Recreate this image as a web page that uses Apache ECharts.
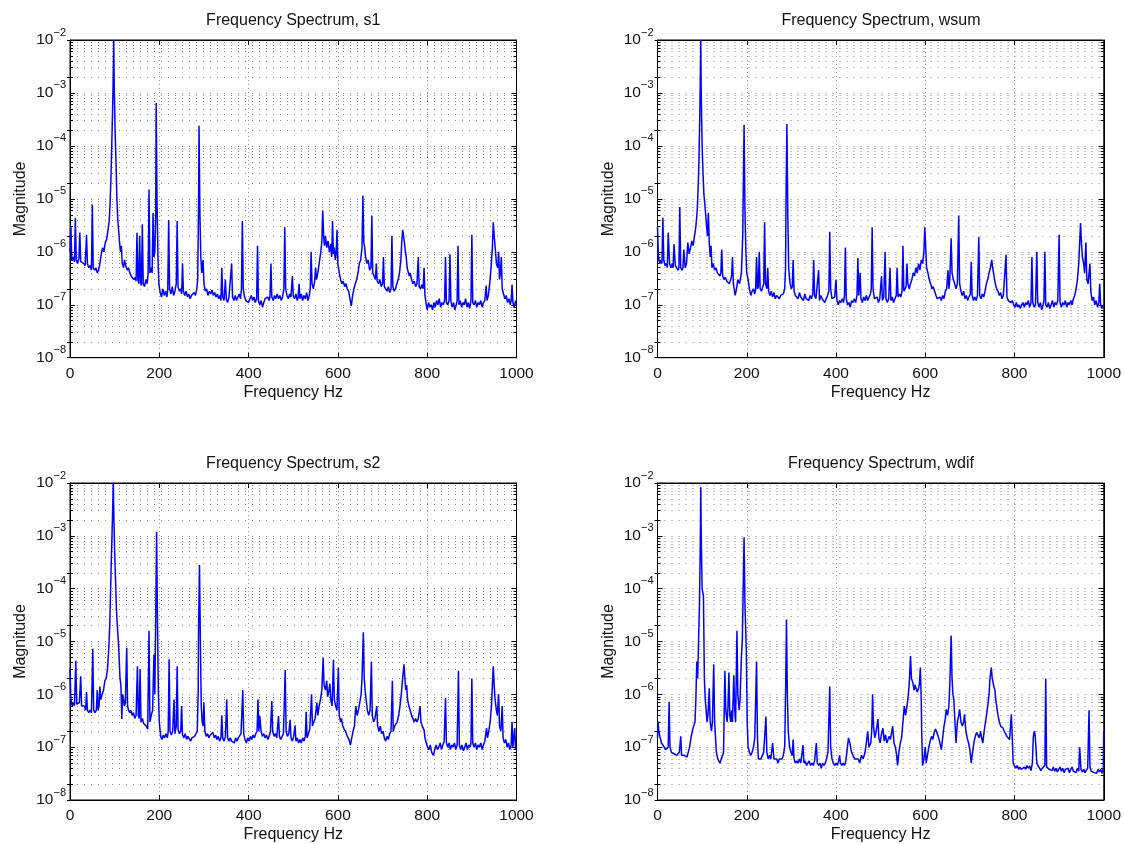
<!DOCTYPE html>
<html>
<head>
<meta charset="utf-8">
<script src="https://cdn.jsdelivr.net/npm/echarts@6/dist/echarts.min.js"></script>
<style>html,body{margin:0;padding:0;background:#fff}#c{width:1124px;height:844px}</style>
</head>
<body>
<div id="c"></div>
<script>
// ---------- DATA (frequency Hz, magnitude) ----------
const titles = ['Frequency Spectrum, s1', 'Frequency Spectrum, wsum', 'Frequency Spectrum, s2', 'Frequency Spectrum, wdif'];
const xTicks = [0, 200, 400, 600, 800, 1000];
const yRange = [1e-8, 1e-2];
const minorSteps = [2, 3, 4, 5, 6, 7, 8, 9];

const s1 = [[0,1e-6],[2,3e-6],[4,7e-7],[7,8e-7],[10,6.5e-7],[12,4.4e-6],[14,7e-7],[17,6e-7],[20,7.5e-7],[22,2.3e-6],[24,6.5e-7],[28,7e-7],[31,6e-7],[34,5.5e-7],[37,2.1e-6],[39,6e-7],[42,5e-7],[45,5.5e-7],[48,4.5e-7],[50,7.8e-6],[52,5e-7],[55,4.5e-7],[58,5e-7],[61,4e-7],[64,4.5e-7],[67,6e-7],[70,9e-7],[73,1.2e-6],[76,1e-6],[79,1.5e-6],[82,1.7e-6],[85,2.5e-6],[88,4e-6],[90,9e-6],[92,3e-5],[94,1.5e-4],[96,8e-4],[98,1e-2],[99,1.5e-3],[101,2e-4],[103,5e-5],[105,1e-5],[107,4e-6],[109,2.5e-6],[111,1.5e-6],[113,1e-6],[115,1.3e-6],[117,6e-7],[120,5e-7],[122,7e-7],[125,5.5e-7],[128,4.5e-7],[131,5e-7],[134,4e-7],[137,3.5e-7],[140,3.8e-7],[143,3e-7],[146,3.3e-7],[148,2.8e-7],[150,2.3e-6],[152,3e-7],[154,2.5e-7],[156,2e-6],[158,2.6e-7],[160,2.3e-7],[162,3.3e-6],[164,2.5e-7],[167,2.2e-7],[170,3e-7],[173,2.5e-7],[175,4e-7],[177,1.5e-5],[179,4e-7],[182,5e-7],[184,4e-7],[186,5.4e-6],[188,8e-7],[190,1e-6],[192,5e-6],[193,6.5e-4],[195,8e-6],[197,8e-7],[199,2.5e-7],[202,1.7e-7],[205,1.4e-7],[208,2e-7],[211,1.5e-7],[214,1.8e-7],[217,1.4e-7],[219,2e-7],[221,4e-6],[223,2e-7],[226,1.6e-7],[229,2.2e-7],[232,1.5e-7],[235,1.8e-7],[238,2.5e-7],[240,3.8e-6],[242,2.2e-7],[245,1.8e-7],[248,2e-7],[250,1.6e-7],[252,6e-7],[254,1.8e-7],[257,1.5e-7],[260,1.8e-7],[263,1.4e-7],[266,1.6e-7],[269,1.3e-7],[272,1.5e-7],[275,1.4e-7],[278,1.7e-7],[281,1.5e-7],[284,2e-7],[286,3e-7],[288,8e-6],[289,2.4e-4],[291,5e-6],[293,8e-7],[295,4e-7],[298,7e-7],[300,2.5e-7],[303,1.8e-7],[306,2e-7],[309,1.5e-7],[312,1.8e-7],[315,1.6e-7],[318,1.9e-7],[321,1.5e-7],[324,1.7e-7],[327,1.4e-7],[330,1.6e-7],[333,1.3e-7],[336,1.5e-7],[338,1.2e-7],[340,5e-7],[342,1.4e-7],[345,1.2e-7],[348,3e-7],[350,1.3e-7],[353,1.1e-7],[356,1.4e-7],[359,1.3e-7],[362,6e-7],[364,1.4e-7],[367,1.2e-7],[370,1.5e-7],[373,1.2e-7],[376,1.4e-7],[379,1.6e-7],[382,1.3e-7],[384,2e-7],[386,3.8e-6],[388,2e-7],[391,1.4e-7],[394,1.2e-7],[397,1.3e-7],[400,1.1e-7],[403,1.3e-7],[406,1.5e-7],[409,1.2e-7],[412,1.4e-7],[415,1.1e-7],[418,1.3e-7],[420,1.3e-6],[422,1.2e-7],[425,1e-7],[428,1.2e-7],[431,9e-8],[434,1.1e-7],[437,1.3e-7],[440,1.2e-7],[443,1.4e-7],[446,1.2e-7],[448,1.5e-7],[450,6e-7],[452,1.4e-7],[455,1.2e-7],[458,1.5e-7],[461,1.3e-7],[464,1.6e-7],[467,1.3e-7],[470,1.5e-7],[473,1.2e-7],[476,1.4e-7],[479,2e-7],[481,2.9e-6],[483,2e-7],[486,1.5e-7],[489,1.3e-7],[492,1.6e-7],[495,1.4e-7],[498,3.5e-7],[500,1.5e-7],[503,1.3e-7],[506,1.6e-7],[509,1.2e-7],[511,1.4e-7],[513,2.5e-7],[515,1.3e-7],[518,1.6e-7],[521,1.2e-7],[524,1.5e-7],[527,1.3e-7],[530,1.7e-7],[533,1.2e-7],[536,1.5e-7],[538,2e-7],[540,1e-6],[542,2.5e-7],[545,2e-7],[548,2.8e-7],[550,5e-7],[552,3e-7],[555,4e-7],[558,6e-7],[561,9e-7],[564,1.5e-6],[566,6e-6],[568,2e-6],[570,1.3e-6],[572,2e-6],[575,1.2e-6],[578,1.6e-6],[581,1e-6],[584,1.4e-6],[586,8e-7],[588,3.8e-6],[590,9e-7],[592,1.2e-6],[594,7e-7],[596,9e-7],[598,2.6e-6],[600,6e-7],[603,4e-7],[606,3e-7],[609,2.5e-7],[612,2.8e-7],[615,2.2e-7],[618,2.5e-7],[621,2e-7],[624,1.8e-7],[627,1.3e-7],[630,9.5e-8],[633,1.5e-7],[636,2e-7],[639,2.5e-7],[642,3e-7],[645,4e-7],[648,6e-7],[651,7e-7],[654,1.2e-6],[656,1.15e-5],[658,1.5e-6],[660,1.2e-6],[662,8e-7],[665,6e-7],[668,7e-7],[671,4.5e-7],[674,5e-7],[676,4.8e-6],[678,4e-7],[681,3.5e-7],[684,3e-7],[686,6e-7],[688,2.8e-7],[691,2.5e-7],[694,3e-7],[697,2.2e-7],[700,2.5e-7],[702,8e-7],[704,2.2e-7],[707,2e-7],[710,1.8e-7],[713,2.2e-7],[716,1.7e-7],[719,2e-7],[721,2e-6],[723,2.2e-7],[726,1.8e-7],[729,2e-7],[732,2.5e-7],[735,3e-7],[738,4e-7],[741,7e-7],[743,1.5e-6],[745,2.6e-6],[747,2e-6],[749,1.5e-6],[751,1e-6],[753,8e-7],[755,5e-7],[758,4e-7],[760,3.5e-7],[762,4e-7],[765,3e-7],[768,2.5e-7],[771,2.8e-7],[774,2.2e-7],[777,2.5e-7],[780,8e-7],[782,2.2e-7],[785,2e-7],[788,2.4e-7],[791,2e-7],[793,5e-7],[795,1.5e-7],[798,1e-7],[800,8e-8],[803,1.1e-7],[806,9e-8],[809,1e-7],[812,8e-8],[815,1.1e-7],[818,9e-8],[821,1.2e-7],[824,1e-7],[827,1.3e-7],[830,9e-8],[833,1.1e-7],[836,1e-7],[839,1.2e-7],[841,8e-7],[843,1.1e-7],[846,1e-7],[849,1.2e-7],[851,9e-7],[853,1.2e-7],[856,9e-8],[859,1.1e-7],[862,8e-8],[865,1e-7],[867,1.2e-7],[869,1.3e-6],[871,1e-7],[874,1.2e-7],[877,9e-8],[880,1.1e-7],[883,1e-7],[886,1.3e-7],[889,9e-8],[892,1.1e-7],[895,8.5e-8],[898,1.2e-7],[900,2.1e-6],[902,1.1e-7],[905,1e-7],[908,1.2e-7],[911,9e-8],[914,1.1e-7],[917,1e-7],[920,1.2e-7],[923,9e-8],[926,1.1e-7],[929,1.2e-7],[932,2.3e-7],[934,1.2e-7],[937,1.5e-7],[940,2.5e-7],[943,5e-7],[946,1.2e-6],[948,3.6e-6],[950,2e-6],[952,1.3e-6],[955,6e-7],[958,5e-7],[960,1e-6],[962,3e-7],[964,4e-7],[966,8e-7],[968,2e-7],[971,1.6e-7],[974,1.3e-7],[977,1.5e-7],[980,1.1e-7],[983,1.3e-7],[986,1e-7],[988,1.2e-7],[990,2.4e-7],[992,1.1e-7],[995,9e-8],[998,1.2e-7],[1000,1e-7]];

const wsum = [[0,3e-6],[2,8e-7],[5,6e-7],[8,7e-7],[10,6e-7],[12,4.4e-6],[14,7e-7],[17,5.5e-7],[20,6e-7],[22,5e-7],[24,2.3e-6],[27,6e-7],[30,5e-7],[33,6e-7],[35,5e-7],[37,1.4e-6],[40,5.5e-7],[43,5e-7],[46,4.5e-7],[48,5e-7],[50,7e-6],[52,5e-7],[55,4.5e-7],[57,5e-7],[59,1.1e-6],[62,5e-7],[65,6e-7],[68,1.5e-6],[71,9e-7],[74,1.2e-6],[77,1.6e-6],[80,1.3e-6],[83,2e-6],[86,3e-6],[89,6e-6],[91,1.5e-5],[93,6e-5],[95,5e-4],[97,1e-2],[98,1e-3],[100,1e-4],[102,3e-5],[104,1.2e-5],[106,8e-6],[108,5e-6],[110,3e-6],[112,2e-6],[114,5.4e-6],[116,1.5e-6],[118,8e-7],[120,1.3e-6],[122,5e-7],[125,6e-7],[128,4.5e-7],[131,5e-7],[134,4e-7],[137,3.8e-7],[140,3.5e-7],[142,4e-7],[144,1.1e-6],[146,3.5e-7],[149,3e-7],[152,3.3e-7],[155,2.8e-7],[158,3e-7],[161,2.5e-7],[164,3e-7],[166,3.5e-7],[168,8e-7],[170,2.5e-7],[174,1.5e-7],[177,2e-7],[180,3e-7],[184,2.5e-7],[188,4e-7],[191,2e-6],[192,1e-5],[194,2.5e-4],[196,6e-6],[198,1e-6],[200,4e-7],[203,3e-7],[206,2e-7],[209,1.5e-7],[212,1.8e-7],[215,2e-7],[218,1.6e-7],[220,2e-7],[222,8e-7],[224,2e-7],[226,2.2e-7],[228,1e-6],[230,2e-7],[233,1.8e-7],[236,2.2e-7],[238,2.5e-7],[240,3.6e-6],[242,2.5e-7],[245,2e-7],[247,5e-7],[249,1.8e-7],[252,1.5e-7],[255,1.8e-7],[258,1.4e-7],[261,1.7e-7],[264,1.3e-7],[267,1.5e-7],[270,1.6e-7],[273,1.3e-7],[276,1.5e-7],[279,1.4e-7],[282,1.6e-7],[285,2e-7],[287,5e-7],[288,1e-5],[290,2.6e-4],[292,5e-6],[294,5e-7],[297,2.5e-7],[300,2e-7],[302,2.2e-7],[304,7e-7],[306,1.8e-7],[309,1.5e-7],[312,1.6e-7],[315,1.3e-7],[318,1.7e-7],[321,1.4e-7],[324,1.5e-7],[327,1.2e-7],[330,1.6e-7],[333,1.3e-7],[336,1.4e-7],[339,1.2e-7],[342,1.5e-7],[345,1.3e-7],[348,1.6e-7],[350,7e-7],[352,1.5e-7],[355,1.3e-7],[358,1.4e-7],[361,4.5e-7],[363,1.2e-7],[366,1.5e-7],[369,1.3e-7],[372,1.4e-7],[375,1.1e-7],[378,1.3e-7],[381,1.5e-7],[384,1.8e-7],[386,2.4e-6],[388,2e-7],[391,1.3e-7],[394,1.2e-7],[397,1.4e-7],[400,3e-7],[402,1.2e-7],[405,1e-7],[408,1.2e-7],[411,1.1e-7],[414,1.3e-7],[417,1.1e-7],[419,1.5e-7],[421,1.2e-6],[423,1.3e-7],[426,1e-7],[429,1.1e-7],[432,9e-8],[435,1.2e-7],[438,1.1e-7],[441,1.3e-7],[444,1.1e-7],[447,1.5e-7],[449,7.6e-7],[451,1.5e-7],[454,4e-7],[456,1.3e-7],[459,1.1e-7],[462,1.4e-7],[465,1.2e-7],[468,1.5e-7],[471,1.2e-7],[474,1.3e-7],[477,1.6e-7],[479,2e-7],[481,2.9e-6],[483,2e-7],[486,1.3e-7],[489,1.2e-7],[492,1.4e-7],[495,1.1e-7],[498,1.3e-7],[500,1.2e-7],[502,3.5e-7],[504,1.2e-7],[507,1.4e-7],[510,1e-6],[512,1.3e-7],[515,1.1e-7],[518,1.3e-7],[521,5e-7],[523,1.2e-7],[526,1.4e-7],[529,1.1e-7],[532,1.3e-7],[535,1.5e-7],[537,5e-7],[539,1.4e-7],[542,1.6e-7],[545,1.4e-7],[548,1.8e-7],[550,1.3e-6],[552,1.8e-7],[555,2e-7],[557,2.2e-7],[559,6e-7],[561,2.5e-7],[564,2e-7],[567,2.5e-7],[570,3e-7],[573,4e-7],[576,3.5e-7],[579,5e-7],[582,4e-7],[585,6e-7],[588,4.5e-7],[591,7e-7],[594,6e-7],[597,1e-6],[599,2.9e-6],[601,1.2e-6],[603,5e-7],[606,4e-7],[609,3e-7],[612,2.5e-7],[615,2e-7],[618,2.2e-7],[621,1.8e-7],[624,1.5e-7],[627,1.3e-7],[630,1.2e-7],[633,1.4e-7],[636,1.2e-7],[639,1.5e-7],[642,1.3e-7],[645,1.8e-7],[648,2e-7],[651,4.5e-7],[653,2e-7],[655,3e-7],[658,1.8e-6],[660,4e-7],[663,3e-7],[666,2.5e-7],[669,2e-7],[672,2.5e-7],[675,4.8e-6],[677,2.5e-7],[680,1.8e-7],[683,1.5e-7],[686,1.8e-7],[689,1.3e-7],[692,1.5e-7],[695,1.2e-7],[698,1.4e-7],[701,1.6e-7],[703,6.5e-7],[705,1.5e-7],[708,1.2e-7],[711,1.4e-7],[714,1.2e-7],[717,1.5e-7],[720,1.9e-6],[722,1.5e-7],[725,1.3e-7],[728,1.6e-7],[731,1.4e-7],[734,1.8e-7],[737,2.5e-7],[740,3e-7],[743,4e-7],[746,5e-7],[749,7e-7],[751,5e-7],[754,3.5e-7],[757,2.5e-7],[760,2e-7],[763,1.8e-7],[766,1.5e-7],[769,1.7e-7],[772,1.3e-7],[775,1.5e-7],[778,1.4e-7],[781,8.8e-7],[783,1.4e-7],[786,1.2e-7],[789,1.3e-7],[792,1.1e-7],[795,1.2e-7],[798,1e-7],[801,9e-8],[804,1.1e-7],[807,9e-8],[810,1e-7],[813,8.5e-8],[816,1e-7],[819,1.1e-7],[822,9e-8],[825,1.1e-7],[828,1e-7],[831,1.2e-7],[834,9e-8],[837,1.1e-7],[839,8e-7],[841,1.1e-7],[844,9e-8],[847,1e-7],[850,1e-6],[852,1.1e-7],[855,9e-8],[858,1.1e-7],[861,8e-8],[864,1e-7],[866,1.2e-7],[868,1e-6],[870,1e-7],[873,9e-8],[876,1.1e-7],[879,8.5e-8],[882,1e-7],[885,1.2e-7],[888,9e-8],[891,1.1e-7],[894,1e-7],[897,1.2e-7],[900,2.1e-6],[902,1.1e-7],[905,9e-8],[908,1.1e-7],[911,1e-7],[914,1.2e-7],[917,9e-8],[920,1.1e-7],[923,1e-7],[926,1.2e-7],[929,1e-7],[932,1.3e-7],[935,1.5e-7],[938,2e-7],[941,3e-7],[944,6e-7],[946,1.5e-6],[948,3.5e-6],[950,1.5e-6],[952,8e-7],[955,6e-7],[957,4e-7],[960,1.5e-6],[962,3e-7],[965,2.5e-7],[969,6e-7],[971,1.8e-7],[974,1.2e-7],[977,1.4e-7],[980,1e-7],[983,1.2e-7],[986,9e-8],[989,1.1e-7],[991,2.5e-7],[993,1e-7],[996,8.5e-8],[1000,1e-7]];

const s2 = [[0,3e-6],[2,8e-7],[5,6e-7],[8,7e-7],[10,6e-7],[13,4.3e-6],[15,6.5e-7],[18,6e-7],[21,7e-7],[24,2.2e-6],[26,6e-7],[29,5.5e-7],[32,6e-7],[35,5e-7],[37,1.1e-6],[39,5e-7],[42,4.5e-7],[45,5e-7],[48,4.5e-7],[51,7.3e-6],[53,5e-7],[56,4.5e-7],[59,5e-7],[61,1.2e-6],[63,5e-7],[65,6e-7],[67,1.4e-6],[69,8e-7],[72,1e-6],[75,1.2e-6],[78,1.8e-6],[81,2e-6],[84,3e-6],[87,8e-6],[89,2e-5],[91,1e-4],[93,5e-4],[95,2e-3],[97,1e-2],[98,3e-3],[100,5e-4],[102,1.5e-4],[104,4e-5],[106,2e-5],[108,1.1e-5],[110,5e-6],[112,2e-6],[114,1.5e-6],[116,3.4e-7],[118,1e-6],[120,8e-7],[122,6e-7],[124,7e-7],[127,7.6e-6],[129,6e-7],[131,5e-7],[134,4.5e-7],[136,5e-7],[139,4e-7],[142,4.5e-7],[145,3.5e-7],[148,4e-7],[151,3.4e-6],[153,4e-7],[155,3.5e-7],[157,3e-6],[159,3e-7],[162,3.5e-7],[165,2.8e-7],[168,3e-7],[171,2.5e-7],[174,2.2e-7],[177,1.6e-5],[179,3e-7],[182,4e-7],[185,5e-7],[188,5.7e-6],[190,1e-6],[192,3e-5],[194,1.2e-3],[196,2e-5],[198,1e-6],[200,3e-7],[203,1.6e-7],[206,1.4e-7],[209,1.7e-7],[212,1.5e-7],[215,1.8e-7],[218,1.5e-7],[220,2e-7],[222,4.6e-6],[224,2e-7],[227,1.7e-7],[230,2e-7],[233,8e-7],[235,1.8e-7],[238,2.5e-7],[240,3.4e-6],[242,2.2e-7],[245,1.8e-7],[248,2e-7],[250,6e-7],[252,1.7e-7],[255,1.5e-7],[258,1.8e-7],[261,1.4e-7],[264,1.6e-7],[267,1.5e-7],[270,1.3e-7],[273,1.5e-7],[276,1.4e-7],[279,1.6e-7],[282,1.5e-7],[285,2e-7],[287,1e-6],[288,2e-5],[290,2.8e-4],[292,1e-5],[294,6e-7],[296,3e-7],[298,2.5e-7],[300,7e-7],[302,2e-7],[305,1.6e-7],[308,1.8e-7],[311,1.5e-7],[314,1.7e-7],[317,1.6e-7],[320,1.9e-7],[323,1.5e-7],[326,1.7e-7],[329,1.4e-7],[332,1.6e-7],[335,1.3e-7],[338,1.5e-7],[340,4e-7],[342,1.5e-7],[345,1.3e-7],[348,1.6e-7],[351,8e-7],[353,1.5e-7],[356,1.3e-7],[359,1.5e-7],[362,1.3e-7],[365,1.4e-7],[368,1.2e-7],[371,1.5e-7],[374,1.3e-7],[377,1.5e-7],[380,1.4e-7],[383,1.8e-7],[387,1.2e-6],[389,1.8e-7],[392,1.4e-7],[395,1.2e-7],[398,1.5e-7],[401,1.3e-7],[404,1.6e-7],[407,1.4e-7],[410,1.7e-7],[413,1.5e-7],[416,1.8e-7],[419,2e-7],[421,8e-7],[423,2e-7],[425,3.9e-7],[428,2e-7],[431,1.6e-7],[434,1.8e-7],[437,1.5e-7],[440,1.7e-7],[443,1.4e-7],[446,1.6e-7],[449,2e-7],[452,7.5e-7],[454,2e-7],[457,1.6e-7],[460,1.8e-7],[463,1.5e-7],[467,3.9e-7],[469,1.6e-7],[472,1.4e-7],[475,1.6e-7],[478,1.8e-7],[482,2.9e-6],[484,2e-7],[487,1.6e-7],[490,1.8e-7],[493,3.3e-7],[495,1.5e-7],[498,1.3e-7],[501,1.6e-7],[504,2.6e-7],[506,1.3e-7],[509,1.5e-7],[512,1.2e-7],[515,1.4e-7],[518,1.2e-7],[521,1.5e-7],[524,1.3e-7],[527,1.6e-7],[529,4.7e-7],[531,1.5e-7],[534,1.8e-7],[537,2.2e-7],[541,1e-6],[543,2.5e-7],[546,3e-7],[549,3.5e-7],[553,7e-7],[555,4e-7],[558,6e-7],[561,8e-7],[564,1.2e-6],[567,4.9e-6],[569,1.5e-6],[572,1.2e-6],[575,1.8e-6],[577,9e-7],[580,1.2e-6],[582,1.6e-6],[584,8e-7],[587,6e-7],[590,4.5e-6],[592,8e-7],[595,6e-7],[598,5e-7],[601,3.2e-6],[603,4e-7],[606,3e-7],[608,3.5e-7],[611,2.5e-7],[614,2.2e-7],[617,2e-7],[620,1.7e-7],[623,1.5e-7],[626,1.3e-7],[628,1.1e-7],[631,1.5e-7],[634,2e-7],[637,2.5e-7],[640,6e-7],[643,4e-7],[646,5e-7],[649,7e-7],[652,1e-6],[654,2e-6],[657,1.5e-5],[659,2e-6],[661,1.2e-6],[664,7e-7],[666,5e-7],[669,4e-7],[672,5e-7],[675,4.2e-6],[677,4e-7],[680,3e-7],[683,3.5e-7],[687,6e-7],[689,2.5e-7],[692,2e-7],[695,2.5e-7],[698,1.8e-7],[701,2e-7],[704,1.5e-7],[707,1.3e-7],[710,1.6e-7],[713,1.4e-7],[716,1.8e-7],[719,2e-7],[722,1.8e-6],[724,2e-7],[727,2.5e-7],[731,2.6e-7],[733,3e-7],[736,4e-7],[739,6e-7],[742,1e-6],[745,2e-6],[748,3.7e-6],[750,2e-6],[752,1.2e-6],[754,1.5e-6],[756,8e-7],[759,6e-7],[762,5e-7],[765,4e-7],[769,3.9e-7],[771,3e-7],[774,3.5e-7],[777,3e-7],[780,3.5e-7],[784,6e-7],[786,3e-7],[789,2.5e-7],[793,2.1e-7],[795,1.5e-7],[798,1.2e-7],[801,1e-7],[804,9e-8],[807,1.1e-7],[810,8e-8],[814,7e-8],[817,9e-8],[820,1.1e-7],[823,9e-8],[826,1e-7],[829,1.2e-7],[832,9e-8],[835,1.1e-7],[838,1.3e-7],[841,8.6e-7],[843,1.2e-7],[846,1e-7],[849,1.2e-7],[852,9e-8],[855,1.1e-7],[858,1e-7],[861,1.2e-7],[864,9e-8],[867,1.1e-7],[870,2.8e-6],[872,1.1e-7],[875,9e-8],[878,1.1e-7],[881,8.5e-8],[884,1e-7],[887,1.2e-7],[890,9e-8],[893,1.1e-7],[896,1e-7],[898,1.2e-7],[900,2e-6],[902,1.2e-7],[905,1e-7],[908,1.2e-7],[911,9e-8],[914,1.1e-7],[917,1e-7],[920,1.2e-7],[923,9e-8],[926,1.1e-7],[929,1.3e-7],[933,2.3e-7],[935,1.5e-7],[938,2e-7],[941,3e-7],[944,6e-7],[946,1.5e-6],[948,3.4e-6],[950,1.5e-6],[952,8e-7],[955,5e-7],[957,4e-7],[960,1e-6],[962,2.5e-7],[965,2e-7],[968,6e-7],[970,1.5e-7],[973,1.2e-7],[976,1.4e-7],[979,1e-7],[982,1.2e-7],[985,9e-8],[988,1.1e-7],[990,3e-7],[992,1e-7],[996,2.3e-7],[998,9e-8],[1000,1e-7]];

const wdif = [[0,1.5e-7],[1,3.1e-7],[3,2e-7],[6,1.5e-7],[9,1.2e-7],[12,1.1e-7],[15,1e-7],[18,9e-8],[21,8.5e-8],[24,1e-7],[26,7.2e-7],[28,1e-7],[31,8e-8],[34,8.5e-8],[37,7.5e-8],[40,8e-8],[43,7e-8],[46,7.5e-8],[49,8e-8],[52,1.6e-7],[54,7e-8],[57,7.5e-8],[60,7e-8],[63,6.5e-8],[66,6.5e-8],[69,7e-8],[72,1e-7],[75,1.5e-7],[78,2e-7],[81,2.5e-7],[84,3e-7],[86,8e-7],[88,4.2e-6],[90,2e-6],[92,1e-5],[94,5e-5],[96,8e-4],[97,8.3e-3],[98,1e-3],[100,1e-4],[103,7.2e-5],[105,2e-6],[107,8e-7],[109,5e-7],[111,3e-7],[113,4e-7],[116,1.3e-6],[118,3e-7],[121,2e-7],[123,3e-7],[126,3.7e-6],[128,3e-7],[130,1.5e-7],[132,8e-8],[135,6e-8],[138,5.5e-8],[140,5e-8],[143,6e-8],[146,7e-8],[148,8e-8],[151,2.8e-6],[153,5e-7],[156,3e-7],[158,6e-7],[160,2.6e-6],[162,4e-7],[164,3e-7],[166,5e-7],[168,3e-7],[171,2.3e-6],[173,5e-7],[175,3e-7],[178,1.6e-5],[180,1e-6],[183,5e-7],[185,8e-7],[188,5.3e-6],[190,1e-5],[192,1e-4],[194,9.4e-4],[196,5e-5],[199,7e-6],[201,3e-7],[203,1e-7],[206,8e-8],[209,7e-8],[212,8e-8],[215,1e-7],[218,1.5e-7],[222,4.2e-6],[224,1.5e-7],[226,6e-8],[229,5.5e-8],[232,6e-8],[235,7e-8],[238,8e-8],[243,3.8e-7],[245,8e-8],[248,6e-8],[251,7e-8],[254,6e-8],[258,1.2e-7],[261,6e-8],[264,5.5e-8],[267,6e-8],[270,5e-8],[273,6e-8],[276,5.5e-8],[279,6e-8],[282,7e-8],[285,1e-7],[287,1e-6],[289,2.6e-5],[291,1e-6],[293,2e-7],[296,1e-7],[299,8e-8],[302,7e-8],[304,1.4e-7],[306,6e-8],[309,5e-8],[312,5.5e-8],[315,5e-8],[318,6e-8],[321,5e-8],[326,1.1e-7],[328,5e-8],[331,5.5e-8],[334,4.5e-8],[337,5e-8],[340,5.5e-8],[343,4.5e-8],[346,5e-8],[349,4.5e-8],[352,5.5e-8],[356,1.2e-7],[358,5e-8],[361,4.5e-8],[364,5e-8],[367,4e-8],[370,5e-8],[373,4.5e-8],[376,5e-8],[379,6e-8],[382,8e-8],[386,1.4e-6],[388,1e-7],[391,6e-8],[394,5e-8],[397,4.5e-8],[400,5e-8],[403,4.5e-8],[406,5.5e-8],[408,7e-8],[410,5e-8],[413,4.5e-8],[416,5e-8],[419,4.5e-8],[422,5.5e-8],[425,6e-8],[428,1.5e-7],[431,1.2e-7],[435,8e-8],[438,7e-8],[442,6e-8],[446,5.5e-8],[450,6e-8],[453,5e-8],[457,7e-8],[461,6e-8],[465,8e-8],[468,1.2e-7],[471,2e-7],[474,1e-7],[478,1.2e-7],[480,2e-7],[482,1e-6],[484,2.5e-7],[487,1.5e-7],[490,2e-7],[494,3.4e-7],[496,1.5e-7],[499,1.2e-7],[502,1.8e-7],[505,2.3e-7],[508,1.3e-7],[511,1.7e-7],[514,1.2e-7],[516,1.3e-7],[519,1.6e-7],[522,1.4e-7],[525,2e-7],[527,2.5e-7],[530,1.2e-7],[533,1e-7],[536,7e-8],[538,4.5e-8],[541,8e-8],[544,1.2e-7],[547,1.5e-7],[550,1.4e-7],[553,6e-7],[556,4e-7],[559,6e-7],[561,8e-7],[564,1.5e-6],[567,5.3e-6],[569,2e-6],[572,1.7e-6],[575,1.2e-6],[577,1.5e-6],[579,1.4e-6],[582,1.1e-6],[585,1.3e-6],[587,1.6e-6],[589,3.2e-6],[591,8e-7],[592,2e-7],[594,4.5e-8],[597,6e-8],[600,1e-7],[602,5e-8],[605,7e-8],[608,1e-7],[611,1.3e-7],[614,1.6e-7],[617,1.4e-7],[620,1.9e-7],[623,2.2e-7],[626,2.3e-7],[629,1.6e-7],[632,1.3e-7],[636,9e-8],[639,1.5e-7],[642,2.5e-7],[645,3.5e-7],[647,5.2e-7],[650,4e-7],[653,6e-7],[655,1.5e-6],[658,1.3e-5],[660,2e-6],[662,1e-6],[664,8e-7],[666,8.1e-7],[669,1.2e-7],[672,3e-7],[675,4e-7],[677,5.2e-7],[680,3e-7],[683,2.5e-7],[686,3e-7],[688,4.2e-7],[691,2e-7],[694,1.5e-7],[697,1.2e-7],[700,9e-8],[703,5e-8],[706,8e-8],[709,1.2e-7],[712,1.6e-7],[715,1.9e-7],[718,2e-7],[721,1.5e-7],[724,2e-7],[727,1.4e-7],[729,1.2e-7],[732,2e-7],[735,3e-7],[737,3.9e-7],[740,6e-7],[743,1e-6],[745,2e-6],[748,3.2e-6],[750,2e-6],[753,1.5e-6],[756,1.2e-6],[758,8e-7],[760,6e-7],[763,4e-7],[766,3e-7],[769,2.5e-7],[772,2.5e-7],[774,2.3e-7],[777,2e-7],[780,1.8e-7],[783,1.6e-7],[786,1.7e-7],[789,1.4e-7],[791,2.5e-7],[793,4.2e-7],[795,1.5e-7],[797,5e-8],[800,4.4e-8],[803,4e-8],[806,4.5e-8],[809,3.8e-8],[812,4.2e-8],[815,3.8e-8],[819,3.5e-8],[822,4.2e-8],[825,3.8e-8],[828,4.5e-8],[831,4e-8],[834,4.4e-8],[837,3.6e-8],[840,5e-8],[842,1.5e-7],[844,2e-7],[846,1.8e-7],[848,1e-7],[850,5e-8],[853,4.4e-8],[856,4e-8],[859,3.6e-8],[862,4e-8],[865,3.8e-8],[868,4.5e-8],[870,2e-6],[872,4.2e-8],[875,4.5e-8],[878,3.8e-8],[881,4e-8],[884,3.6e-8],[887,4.2e-8],[890,3.5e-8],[893,4e-8],[896,3.4e-8],[899,3.8e-8],[902,4.2e-8],[905,3.5e-8],[908,4e-8],[911,3.3e-8],[914,3.8e-8],[917,3.5e-8],[920,4e-8],[923,3.3e-8],[926,3.8e-8],[929,4.2e-8],[932,3.5e-8],[935,3.8e-8],[938,3.3e-8],[941,4e-8],[944,3.5e-8],[946,1e-7],[949,3.8e-8],[952,3.4e-8],[955,3.8e-8],[958,3.3e-8],[961,3.6e-8],[964,4e-8],[967,5e-7],[969,4.2e-8],[972,3.5e-8],[975,3.8e-8],[978,3.3e-8],[981,3.6e-8],[984,3.2e-8],[987,3.8e-8],[990,3.4e-8],[993,3.8e-8],[996,3.2e-8],[999,4e-8],[1000,2e-7]];

// ---------- LAYOUT ----------
const seriesData = [s1, wsum, s2, wdif];
const layout = [
  {left: 70, top: 40, width: 446.5, height: 317.7},
  {left: 657.5, top: 40, width: 447, height: 317.7},
  {left: 70, top: 483, width: 446.5, height: 317.7},
  {left: 657.5, top: 483, width: 447, height: 317.7}
];
const FONT = "'Liberation Sans', Arial, Helvetica, sans-serif";
const TXT = '#111';
const GRIDDOT = {type: [1, 6], color: '#858585', width: 1};

const grid = [], xAxis = [], yAxis = [], series = [], graphic = [];
layout.forEach((g, i) => {
  grid.push({left: g.left, top: g.top, width: g.width, height: g.height, show: true,
    borderColor: '#000', borderWidth: 1, backgroundColor: 'transparent', containLabel: false});
  const xBase = {gridIndex: i, type: 'value', min: xTicks[0], max: xTicks[xTicks.length - 1], interval: 200};
  const xMain = xAxis.length;
  xAxis.push(Object.assign({}, xBase, {
    position: 'bottom',
    axisLine: {show: true, onZero: false, lineStyle: {color: '#000', width: 1}},
    axisTick: {show: true, inside: true, length: 5, lineStyle: {color: '#000'}},
    axisLabel: {show: true, color: TXT, fontSize: 15.5, fontFamily: FONT, margin: 8,
      formatter: v => String(v)},
    splitLine: {show: true, lineStyle: {type: [1, 3], color: '#9a9a9a', width: 1}},
    name: 'Frequency Hz', nameLocation: 'middle', nameGap: 27,
    nameTextStyle: {color: TXT, fontSize: 16, fontFamily: FONT}
  }));
  xAxis.push(Object.assign({}, xBase, {
    position: 'top',
    axisLine: {show: true, onZero: false, lineStyle: {color: '#000', width: 1}},
    axisTick: {show: true, inside: true, length: 5, lineStyle: {color: '#000'}},
    axisLabel: {show: false}, splitLine: {show: false}
  }));
  const yBase = {gridIndex: i, type: 'log', logBase: 10, min: yRange[0], max: yRange[1], splitNumber: 6};
  const yMain = yAxis.length;
  yAxis.push(Object.assign({}, yBase, {
    position: 'left',
    axisLine: {show: true, onZero: false, lineStyle: {color: '#000', width: 1}},
    axisTick: {show: true, inside: true, length: 5, lineStyle: {color: '#000'}},
    axisLabel: {
      show: true, margin: 4,
      formatter: function (v) {
        const e = Math.round(Math.log10(v));
        return '{b|10}{e|' + (e < 0 ? '\u2212' : '') + Math.abs(e) + '}';
      },
      rich: {
        b: {fontSize: 15.5, fontFamily: FONT, color: TXT, lineHeight: 26},
        e: {fontSize: 11, fontFamily: FONT, color: TXT, lineHeight: 12, verticalAlign: 'top'}
      }
    },
    splitLine: {show: true, lineStyle: GRIDDOT},
    name: 'Magnitude', nameLocation: 'middle', nameGap: 41,
    nameTextStyle: {color: TXT, fontSize: 16, fontFamily: FONT}
  }));
  yAxis.push(Object.assign({}, yBase, {
    position: 'right',
    axisLine: {show: true, onZero: false, lineStyle: {color: '#000', width: 1}},
    axisTick: {show: true, inside: true, length: 5, lineStyle: {color: '#000'}},
    axisLabel: {show: false}, splitLine: {show: false}
  }));
  // minor grid lines and minor ticks at k*10^n: a hidden log axis whose range is the main
  // range divided by k, so its decade ticks fall on k*10^n of the main axis
  minorSteps.forEach(k => {
    ['left', 'right'].forEach(side => {
      yAxis.push({
        gridIndex: i, type: 'log', logBase: 10, min: yRange[0] / k, max: yRange[1] / k, splitNumber: 6,
        position: side, silent: true,
        axisLine: {show: false},
        axisTick: {show: true, inside: true, length: 3, lineStyle: {color: '#000'}},
        axisLabel: {show: false},
        splitLine: {show: side === 'left', lineStyle: GRIDDOT}
      });
    });
  });
  series.push({
    type: 'line', xAxisIndex: xMain, yAxisIndex: yMain, data: seriesData[i],
    showSymbol: false, symbol: 'none', z: 3, animation: false, clip: true,
    lineStyle: {color: '#0000ff', width: 1.5}
  });
  graphic.push({
    type: 'text', x: g.left + g.width / 2, y: g.top - 19,
    style: {text: titles[i], fill: TXT, font: '16px ' + FONT, align: 'center', verticalAlign: 'middle'}
  });
});

const chart = echarts.init(document.getElementById('c'), null, {renderer: 'canvas'});
chart.setOption({
  backgroundColor: '#fff',
  animation: false,
  grid, xAxis, yAxis, series, graphic
});
</script>
</body>
</html>
